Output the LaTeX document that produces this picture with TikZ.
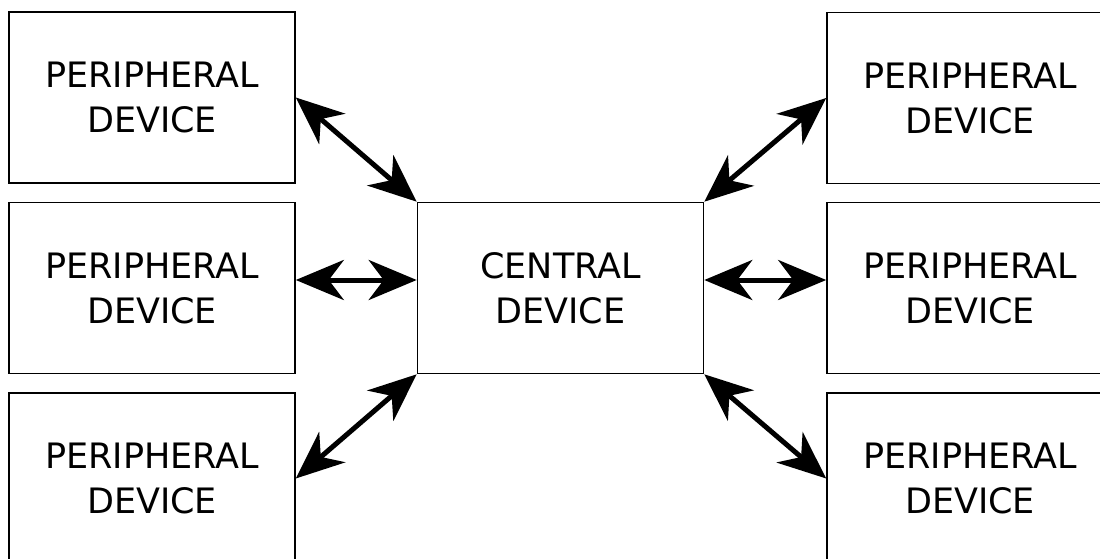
\documentclass[tikz,border=0pt]{standalone}
\usepackage{fontspec}
\setmainfont{DejaVu Sans}
\usetikzlibrary{calc, arrows.meta}

\begin{document}
\begin{tikzpicture}[x=1pt, y=-1pt,
		devbox/.style={draw, line width=1.6pt, minimum width=286pt, minimum height=171pt, inner sep=0pt, align=center, font=\fontsize{35}{45}\selectfont},
		link/.style={line width=5pt, {Stealth[length=48pt, width=40pt, inset=15pt]}-{Stealth[length=48pt, width=40pt, inset=15pt]}}]
			\useasboundingbox (0,0) rectangle (1100,559);
			\clip (0,0) rectangle (1100,559);
			\def\lx{152}
			\def\rx{970}
			
			% Draw devices
			\node[devbox] (C) at (560.5,288) {CENTRAL\\DEVICE};
			\node[devbox] (L1) at (\lx,97.5) {PERIPHERAL\\DEVICE};
			\node[devbox] (L2) at (\lx,288) {PERIPHERAL\\DEVICE};
			\node[devbox] (L3) at (\lx,478.5) {PERIPHERAL\\DEVICE};
			\node[devbox] (R1) at (\rx,98) {PERIPHERAL\\DEVICE};
			\node[devbox] (R2) at (\rx,288) {PERIPHERAL\\DEVICE};
			\node[devbox] (R3) at (\rx,478.5) {PERIPHERAL\\DEVICE};
			
			% Draw links
			\coordinate (Lm) at ($(L2.east)+(0,-8)$);
			\coordinate (Rm) at ($(R2.west)+(0,-8)$);
			\draw[link] (L1.east) -- (C.north west);
			\draw[link] (Lm) -- (C.west |- Lm);
			\draw[link] (L3.east) -- (C.south west);
			\draw[link] (R1.west) -- (C.north east);
			\draw[link] (Rm) -- (C.east |- Rm);
			\draw[link] (R3.west) -- (C.south east);
		\end{tikzpicture}
\end{document}
